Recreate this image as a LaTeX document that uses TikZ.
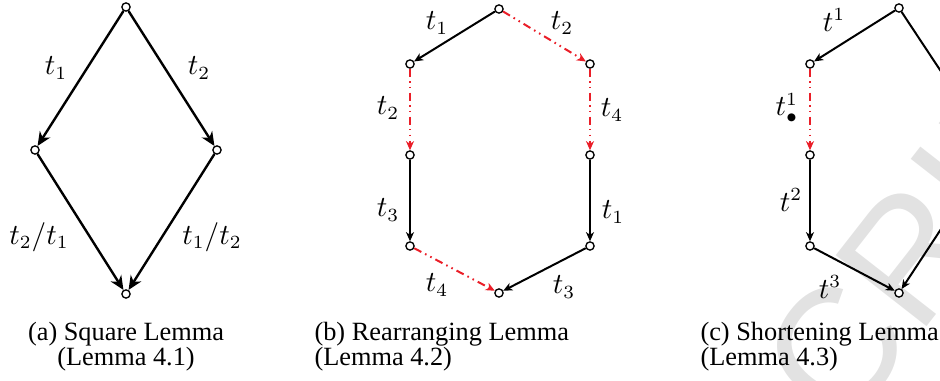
\documentclass[tikz,border=0pt]{standalone}
\usepackage{fontspec}
\setmainfont{Liberation Serif}
\setsansfont{Liberation Sans}
\usepackage{amsmath}
\usepackage{tikz}
\usetikzlibrary{arrows.meta}
\definecolor{pathred}{RGB}{234,30,40}
\definecolor{wmgray}{RGB}{226,226,226}

\begin{document}
\begin{tikzpicture}[x=0.376pt,y=-0.376pt,
    state/.style={circle,draw,fill=white,inner sep=0pt,minimum size=3.1pt,line width=0.5pt},
    bigarr/.style={line width=0.9pt,-{Stealth[length=5.2pt,width=4.6pt,inset=1.6pt]}},
    arr/.style={line width=0.75pt,-{Stealth[length=3.4pt,width=3pt,inset=1pt]}},
    redarr/.style={arr,pathred,dash pattern=on 3pt off 1.6pt on 0.6pt off 1.6pt on 0.6pt off 1.6pt},
    lbl/.style={inner sep=1pt,font=\fontsize{10.5}{12}\selectfont},
    captext/.style={anchor=base,inner sep=0pt,font=\fontsize{9.9}{12}\selectfont}]
    \useasboundingbox (0,0) rectangle (940,381);
    % watermark
    \node[rotate=52,text=wmgray,font=\sffamily\fontsize{63}{63}\selectfont] (wm) at (767,438) {MANUSCRIPT};
    % (a) square lemma
    \node[state] (a0) at (126,7)   {};
    \node[state] (a1) at (35,150)  {};  \node[state] (a2) at (217,150) {};
    \node[state] (a3) at (126,294) {};
    \draw[bigarr] (a0) -- (a1);  \draw[bigarr] (a0) -- (a2);
    \draw[bigarr] (a1) -- (a3);  \draw[bigarr] (a2) -- (a3);
    \node[lbl] (ta1) at (56,68)   {$t_1$};      \node[lbl] (ta2) at (199,68)  {$t_2$};
    \node[lbl] (ta3) at (39,237)  {$t_2/t_1$};  \node[lbl] (ta4) at (212,237) {$t_1/t_2$};
    \node[captext] (capa1) at (126,341) {(a) Square Lemma};
    \node[captext] (capa2) at (126,366) {(Lemma 4.1)};
    % (b) rearranging lemma
    \node[state] (b0) at (499,9)   {};
    \node[state] (b1) at (410,64)  {};  \node[state] (b2) at (590,64)  {};
    \node[state] (b3) at (410,155) {};  \node[state] (b4) at (590,155) {};
    \node[state] (b5) at (410,246) {};  \node[state] (b6) at (590,246) {};
    \node[state] (b7) at (499,293) {};
    \draw[arr] (b0) -- (b1);     \draw[redarr] (b0) -- (b2);
    \draw[redarr] (b1) -- (b3);  \draw[redarr] (b2) -- (b4);
    \draw[arr] (b3) -- (b5);     \draw[arr] (b4) -- (b6);
    \draw[redarr] (b5) -- (b7);  \draw[arr] (b6) -- (b7);
    \node[lbl] (tb1) at (437,23)  {$t_1$};  \node[lbl] (tb2) at (562,23)  {$t_2$};
    \node[lbl] (tb3) at (388,108) {$t_2$};  \node[lbl] (tb4) at (612,110) {$t_4$};
    \node[lbl] (tb5) at (388,210) {$t_3$};  \node[lbl] (tb6) at (613,212) {$t_1$};
    \node[lbl] (tb7) at (437,285) {$t_4$};  \node[lbl] (tb8) at (564,287) {$t_3$};
    \node[captext,anchor=base west] (capb1) at (314,341) {(b) Rearranging Lemma};
    \node[captext,anchor=base west] (capb2) at (314,366) {(Lemma 4.2)};
    % (c) shortening lemma
    \node[state] (c0) at (899,8)   {};
    \node[state] (c1) at (810,64)  {};  \node[state] (c5) at (993,150) {};
    \node[state] (c2) at (810,155) {};
    \node[state] (c3) at (810,246) {};
    \node[state] (c4) at (899,293) {};
    \draw[arr] (c0) -- (c1);     \draw[redarr] (c1) -- (c2);
    \draw[arr] (c2) -- (c3);     \draw[arr] (c3) -- (c4);
    \draw[arr] (c0) -- (c5);     \draw[arr] (c5) -- (c4);
    \node[lbl] (tc1) at (834,20)  {$t^1$};
    \node[lbl] (tc2) at (787,108) {$t^1_\bullet$};
    \node[lbl] (tc3) at (791,200) {$t^2$};
    \node[lbl] (tc4) at (830,287) {$t^3$};
    \node[captext,anchor=base west] (capc1) at (700,341) {(c) Shortening Lemma};
    \node[captext,anchor=base west] (capc2) at (700,366) {(Lemma 4.3)};
  \end{tikzpicture}
\end{document}
